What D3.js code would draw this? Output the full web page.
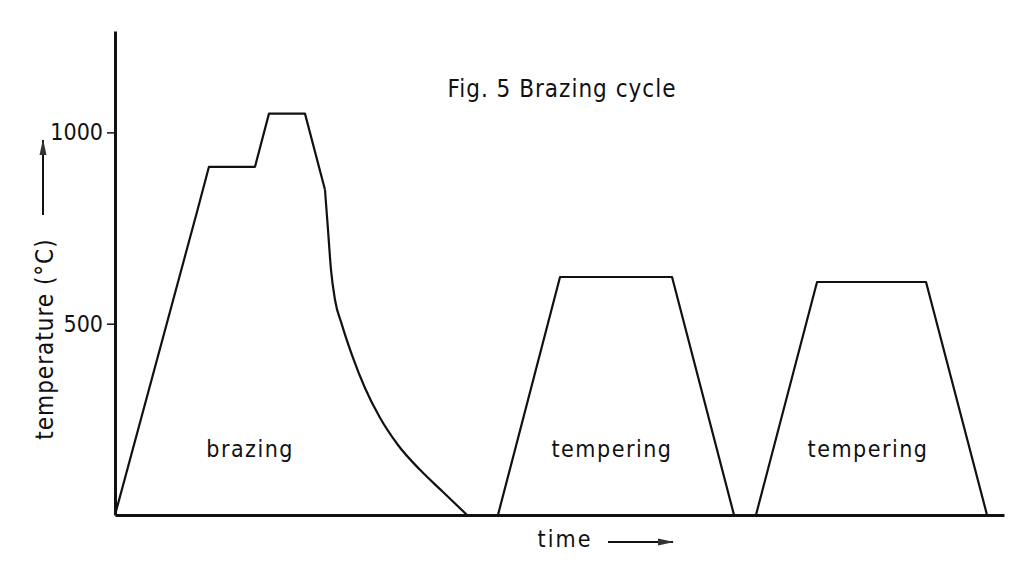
<!DOCTYPE html>
<html>
<head>
<meta charset="utf-8">
<script src="https://cdn.jsdelivr.net/npm/d3@7"></script>
<style>
  body { margin: 0; background: #fff; }
  svg text { font-family: "DejaVu Sans Condensed", "DejaVu Sans", sans-serif; fill: #111; }
</style>
</head>
<body>
<svg id="chart" width="1024" height="564"></svg>
<script>
// time is in arbitrary units (0..100 along the axis), temperature in degC
var heatTime = [0, 9.22, 10.57, 15.75, 17.32, 21.37, 23.62];
var heatTemp = [0, 792, 910, 910, 1049, 1049, 850];

var coolTime = [23.62, 23.96, 24.3, 24.75, 25.53, 26.66, 28.12, 29.81, 31.83, 34.31, 36.9, 39.6];
var coolTemp = [850, 745, 640, 562, 497, 418, 332, 254, 183, 118, 60, 0];

var temper1Time = [43.08, 50.06, 62.66, 69.63];
var temper1Temp = [0, 622, 622, 0];

var temper2Time = [72.1, 78.97, 91.23, 98.09];
var temper2Temp = [0, 609, 609, 0];

var yTicks = [500, 1000];

var phaseNames = ["brazing", "tempering", "tempering"];
var phaseTime = [15.2, 55.9, 84.7];

var svg = d3.select("#chart");

// setup scales
var xScale = d3.scaleLinear().domain([0, 100]).range([115, 1004]);
var yScale = d3.scaleLinear().domain([0, 1265]).range([515, 31]);

var zip = function(ts, vs) { return ts.map(function(t, i) { return [t, vs[i]]; }); };

// arrow heads for the axis-label arrows
var defs = svg.append("defs");
defs.append("marker")
    .attr("id", "arrow")
    .attr("viewBox", "0 0 16 8")
    .attr("refX", 15)
    .attr("refY", 4)
    .attr("markerWidth", 16)
    .attr("markerHeight", 8)
    .attr("markerUnits", "userSpaceOnUse")
    .attr("orient", "auto")
  .append("path")
    .attr("d", "M0,0.5 L16,4 L0,7.5 Z")
    .attr("fill", "#333");

// y axis
var yAxis = d3.axisLeft(yScale)
    .tickValues(yTicks)
    .tickFormat(d3.format("d"))
    .tickSize(8)
    .tickSizeOuter(0)
    .tickPadding(4);

var yG = svg.append("g")
    .attr("transform", "translate(" + xScale(0) + ",0)")
    .call(yAxis);
yG.select(".domain").attr("stroke", "#111").attr("stroke-width", 3);
yG.selectAll(".tick line").attr("stroke", "#111").attr("stroke-width", 1.5);
yG.selectAll(".tick text")
    .attr("font-size", 23)
    .attr("font-family", null)
    .attr("fill", "#111");

// x axis (no ticks)
var xAxis = d3.axisBottom(xScale).tickValues([]).tickSizeOuter(0);
var xG = svg.append("g")
    .attr("transform", "translate(0," + yScale(0) + ")")
    .call(xAxis);
xG.select(".domain").attr("stroke", "#111").attr("stroke-width", 3);

// the cycle curves
var lineLinear = d3.line()
    .x(function(d) { return xScale(d[0]); })
    .y(function(d) { return yScale(d[1]); });

var lineCurve = d3.line()
    .x(function(d) { return xScale(d[0]); })
    .y(function(d) { return yScale(d[1]); })
    .curve(d3.curveMonotoneX);

var curves = svg.append("g")
    .attr("fill", "none")
    .attr("stroke", "#111")
    .attr("stroke-width", 2.2)
    .attr("stroke-linejoin", "round");

curves.append("path").attr("d", lineLinear(zip(heatTime, heatTemp)));
curves.append("path").attr("d", lineCurve(zip(coolTime, coolTemp)));
curves.append("path").attr("d", lineLinear(zip(temper1Time, temper1Temp)));
curves.append("path").attr("d", lineLinear(zip(temper2Time, temper2Temp)));

// phase labels
svg.selectAll(".phase")
    .data(phaseNames)
  .enter().append("text")
    .attr("class", "phase")
    .attr("x", function(d, i) { return xScale(phaseTime[i]); })
    .attr("y", yScale(152))
    .attr("text-anchor", "middle")
    .attr("font-size", 23)
    .attr("letter-spacing", 1.5)
    .text(function(d) { return d; });

// title
svg.append("text")
    .attr("x", 562)
    .attr("y", 97)
    .attr("text-anchor", "middle")
    .attr("font-size", 24)
    .attr("letter-spacing", 1)
    .text("Fig. 5 Brazing cycle");

// y label with arrow
svg.append("text")
    .attr("transform", "translate(53,339) rotate(-90)")
    .attr("text-anchor", "middle")
    .attr("font-size", 24)
    .attr("letter-spacing", 1)
    .text("temperature (°C)");

svg.append("line")
    .attr("x1", 43).attr("y1", 215)
    .attr("x2", 43).attr("y2", 140)
    .attr("stroke", "#111")
    .attr("stroke-width", 2)
    .attr("marker-end", "url(#arrow)");

// x label with arrow
svg.append("text")
    .attr("x", 565)
    .attr("y", 547)
    .attr("text-anchor", "middle")
    .attr("font-size", 23)
    .attr("letter-spacing", 2)
    .text("time");

svg.append("line")
    .attr("x1", 608).attr("y1", 542)
    .attr("x2", 673).attr("y2", 542)
    .attr("stroke", "#111")
    .attr("stroke-width", 2)
    .attr("marker-end", "url(#arrow)");
</script>
</body>
</html>
